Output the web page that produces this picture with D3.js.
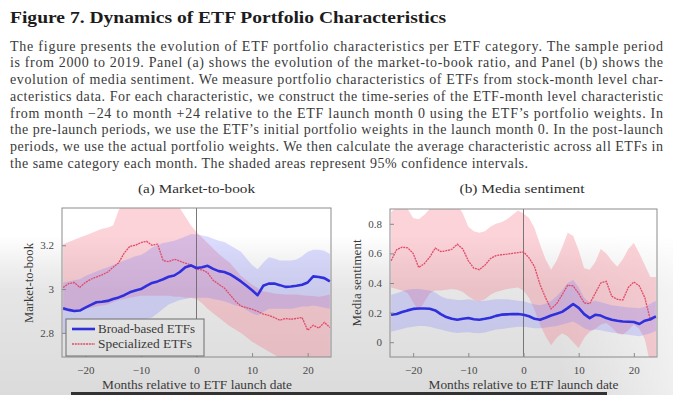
<!DOCTYPE html>
<html>
<head>
<meta charset="utf-8">
<script src="https://cdn.jsdelivr.net/npm/d3@7"></script>
<style>
  body { margin: 0; background: #fff; }
  svg { display: block; }
  svg text { font-family: "Liberation Serif", "DejaVu Serif", serif; }
</style>
</head>
<body>
<div id="figure"></div>
<script>
// months relative to launch
const months = [-24, -23, -22, -21, -20, -19, -18, -17, -16, -15, -14, -13, -12, -11, -10, -9, -8, -7, -6, -5,
  -4, -3, -2, -1, 0, 1, 2, 3, 4, 5, 6, 7, 8, 9, 10, 11, 12, 13, 14, 15, 16, 17, 18, 19, 20, 21, 22, 23, 24];

// panel (a) market-to-book
const mtbBroad = [2.912, 2.905, 2.900, 2.902, 2.915, 2.928, 2.940, 2.942, 2.946, 2.955,
  2.962, 2.972, 2.985, 2.993, 3.000, 3.015, 3.028, 3.035, 3.045, 3.056,
  3.062, 3.078, 3.100, 3.108, 3.096, 3.100, 3.106, 3.092, 3.082, 3.078,
  3.068, 3.052, 3.035, 3.015, 2.995, 2.972, 3.015, 3.025, 3.025, 3.018,
  3.010, 3.012, 3.015, 3.020, 3.030, 3.058, 3.055, 3.050, 3.035];
const mtbBroadLo = [2.80, 2.80, 2.80, 2.80, 2.80, 2.81, 2.81, 2.82, 2.83, 2.84,
  2.845, 2.85, 2.85, 2.855, 2.86, 2.865, 2.87, 2.89, 2.91, 2.93,
  2.94, 2.95, 2.955, 2.96, 2.96, 2.96, 2.96, 2.955, 2.95, 2.945,
  2.935, 2.925, 2.92, 2.905, 2.89, 2.88, 2.895, 2.91, 2.91, 2.91,
  2.91, 2.91, 2.915, 2.92, 2.92, 2.925, 2.92, 2.915, 2.91];
const mtbBroadHi = [3.03, 3.035, 3.04, 3.045, 3.06, 3.07, 3.08, 3.09, 3.10, 3.11,
  3.12, 3.13, 3.14, 3.15, 3.155, 3.17, 3.19, 3.20, 3.21, 3.215,
  3.22, 3.23, 3.24, 3.25, 3.25, 3.245, 3.24, 3.23, 3.22, 3.215,
  3.20, 3.185, 3.17, 3.14, 3.11, 3.09, 3.12, 3.145, 3.14, 3.13,
  3.13, 3.13, 3.135, 3.15, 3.17, 3.18, 3.18, 3.175, 3.16];
const mtbSpec = [3.007, 3.025, 3.030, 3.008, 3.030, 3.045, 3.055, 3.065, 3.077, 3.100,
  3.120, 3.165, 3.195, 3.200, 3.212, 3.218, 3.200, 3.205, 3.130, 3.125,
  3.136, 3.128, 3.118, 3.110, 3.090, 3.088, 3.075, 3.040, 3.022, 3.005,
  2.975, 2.945, 2.922, 2.915, 2.908, 2.898, 2.886, 2.880, 2.870, 2.858,
  2.866, 2.862, 2.866, 2.870, 2.812, 2.835, 2.822, 2.848, 2.825];
const mtbSpecLo = [2.90, 2.90, 2.905, 2.905, 2.91, 2.915, 2.92, 2.925, 2.93, 2.94,
  2.95, 2.955, 2.96, 2.965, 2.97, 2.97, 2.97, 2.97, 2.97, 2.97,
  2.965, 2.965, 2.96, 2.96, 2.955, 2.935, 2.91, 2.89, 2.87, 2.85,
  2.83, 2.815, 2.80, 2.78, 2.76, 2.745, 2.73, 2.715, 2.70, 2.685,
  2.67, 2.66, 2.65, 2.64, 2.63, 2.62, 2.62, 2.61, 2.60];
const mtbSpecHi = [3.205, 3.215, 3.225, 3.235, 3.245, 3.255, 3.265, 3.275, 3.28, 3.29,
  3.36, 3.40, 3.42, 3.43, 3.44, 3.44, 3.43, 3.42, 3.40, 3.39,
  3.38, 3.37, 3.33, 3.29, 3.26, 3.235, 3.21, 3.185, 3.16, 3.14,
  3.12, 3.09, 3.06, 3.04, 3.02, 3.005, 2.99, 2.985, 2.98, 2.977,
  2.975, 2.975, 2.975, 2.972, 2.97, 2.968, 2.965, 2.97, 2.975];

// panel (b) media sentiment
const sentBroad = [0.186, 0.19, 0.204, 0.215, 0.225, 0.228, 0.228, 0.226, 0.215, 0.19,
  0.17, 0.158, 0.152, 0.158, 0.163, 0.155, 0.152, 0.158, 0.165, 0.178,
  0.186, 0.188, 0.19, 0.19, 0.186, 0.175, 0.158, 0.152, 0.165, 0.18,
  0.192, 0.205, 0.23, 0.258, 0.232, 0.19, 0.163, 0.185, 0.18, 0.163,
  0.152, 0.145, 0.14, 0.138, 0.136, 0.123, 0.145, 0.155, 0.174];
const sentBroadLo = [0.07, 0.08, 0.09, 0.10, 0.105, 0.11, 0.11, 0.105, 0.095, 0.085,
  0.075, 0.068, 0.063, 0.065, 0.068, 0.062, 0.06, 0.065, 0.075, 0.085,
  0.09, 0.095, 0.1, 0.105, 0.105, 0.1, 0.095, 0.095, 0.1, 0.105,
  0.11, 0.12, 0.13, 0.14, 0.12, 0.095, 0.08, 0.085, 0.08, 0.072,
  0.065, 0.06, 0.055, 0.05, 0.045, 0.04, 0.05, 0.06, 0.075];
const sentBroadHi = [0.32, 0.33, 0.345, 0.355, 0.36, 0.36, 0.355, 0.35, 0.335, 0.31,
  0.295, 0.29, 0.285, 0.285, 0.29, 0.283, 0.278, 0.28, 0.285, 0.29,
  0.29, 0.29, 0.285, 0.28, 0.276, 0.265, 0.255, 0.25, 0.26, 0.28,
  0.31, 0.35, 0.40, 0.42, 0.37, 0.30, 0.27, 0.28, 0.27, 0.26,
  0.25, 0.245, 0.24, 0.235, 0.232, 0.23, 0.24, 0.26, 0.28];
const sentSpec = [0.55, 0.625, 0.642, 0.638, 0.60, 0.505, 0.53, 0.575, 0.636, 0.612,
  0.618, 0.628, 0.662, 0.63, 0.55, 0.50, 0.49, 0.52, 0.565, 0.585,
  0.591, 0.595, 0.60, 0.605, 0.61, 0.57, 0.51, 0.389, 0.30, 0.225,
  0.26, 0.32, 0.385, 0.38, 0.33, 0.265, 0.26, 0.33, 0.40, 0.411,
  0.31, 0.29, 0.285, 0.37, 0.407, 0.38, 0.30, 0.15, 0.17];
const sentSpecLo = [0.37, 0.36, 0.35, 0.33, 0.27, 0.21, 0.27, 0.33, 0.35, 0.35,
  0.355, 0.36, 0.355, 0.34, 0.31, 0.285, 0.276, 0.29, 0.32, 0.34,
  0.35, 0.36, 0.365, 0.37, 0.35, 0.30, 0.22, 0.12, 0.04, -0.02,
  0.03, 0.06, 0.04, 0.0, -0.04, 0.03, 0.07, 0.09, 0.12, 0.13,
  0.10, 0.06, 0.05, 0.08, 0.12, 0.09, 0.02, -0.15, -0.12];
const sentSpecHi = [0.88, 0.91, 0.93, 0.90, 0.84, 0.83, 0.86, 0.90, 0.93, 0.93,
  0.92, 0.93, 0.93, 0.87, 0.78, 0.75, 0.74, 0.75, 0.78, 0.80,
  0.81, 0.83, 0.86, 0.89, 0.87, 0.84, 0.77, 0.66, 0.56, 0.49,
  0.55, 0.64, 0.74, 0.72, 0.62, 0.50, 0.49, 0.54, 0.63, 0.60,
  0.55, 0.51, 0.56, 0.63, 0.67, 0.60, 0.52, 0.44, 0.44];

const xTicks = [-20, -10, 0, 10, 20];
const mtbTicks = [2.8, 3, 3.2];
const sentTicks = [0, 0.2, 0.4, 0.6, 0.8];
const seriesNames = ["Broad-based ETFs", "Specialized ETFs"];

const captionLines = [
  "The figure presents the evolution of ETF portfolio characteristics per ETF category.  The sample period",
  "is from 2000 to 2019.  Panel (a) shows the evolution of the market-to-book ratio, and Panel (b) shows the",
  "evolution of media sentiment.  We measure portfolio characteristics of ETFs from stock-month level char-",
  "acteristics data.  For each characteristic, we construct the time-series of the ETF-month level characteristic",
  "from month \u221224 to month +24 relative to the ETF launch month 0 using the ETF\u2019s portfolio weights.  In",
  "the pre-launch periods, we use the ETF\u2019s initial portfolio weights in the launch month 0.  In the post-launch",
  "periods, we use the actual portfolio weights.  We then calculate the average characteristic across all ETFs in",
  "the same category each month.  The shaded areas represent 95% confidence intervals."
];

const W = 673, H = 395;
const blue = "#2f2fdc", red = "#e24a68";
const serif = "'Liberation Serif', 'DejaVu Serif', serif";

const svg = d3.select("#figure").append("svg")
  .attr("width", W)
  .attr("height", H);

// screen-photo like background: white on top, greyer towards the bottom left
const defs = svg.append("defs");
const grad = defs.append("linearGradient")
  .attr("id", "bg")
  .attr("gradientUnits", "userSpaceOnUse")
  .attr("x1", 0).attr("y1", 0).attr("x2", 0).attr("y2", H);
[[0, "#ffffff"], [235, "#ffffff"], [265, "#f0f0f0"], [290, "#e6e6e6"], [395, "#dbdbdb"]].forEach(s => {
  grad.append("stop").attr("offset", s[0] / H).attr("stop-color", s[1]);
});
const glare = defs.append("linearGradient")
  .attr("id", "glare")
  .attr("gradientUnits", "userSpaceOnUse")
  .attr("x1", 560).attr("y1", 0).attr("x2", W).attr("y2", 0);
glare.append("stop").attr("offset", 0).attr("stop-color", "#fff").attr("stop-opacity", 0);
glare.append("stop").attr("offset", 1).attr("stop-color", "#fff").attr("stop-opacity", 0.55);

svg.append("rect").attr("width", W).attr("height", H).attr("fill", "url(#bg)");
svg.append("rect").attr("width", W).attr("height", H).attr("fill", "url(#glare)");

svg.append("text")
  .attr("x", 10).attr("y", 23)
  .attr("textLength", 436)
  .attr("lengthAdjust", "spacingAndGlyphs")
  .style("font-family", serif)
  .style("font-size", "17.5px")
  .style("font-weight", "bold")
  .attr("fill", "#1c1c1c")
  .text("Figure 7. Dynamics of ETF Portfolio Characteristics");

svg.selectAll(".caption")
  .data(captionLines)
  .enter().append("text")
  .attr("class", "caption")
  .attr("x", 10)
  .attr("y", (d, i) => 50.5 + i * 16.75)
  .attr("textLength", (d, i) => i === captionLines.length - 1 ? 518 : 653)
  .attr("lengthAdjust", "spacing")
  .style("font-family", serif)
  .style("font-size", "14px")
  .attr("fill", "#3a3a3a")
  .text(d => d);

function drawPanel(cfg) {
  const x = d3.scaleLinear().domain([-24.2, 24.2]).range([cfg.left, cfg.right]);
  const y = d3.scaleLinear().domain(cfg.yDomain).range([357, cfg.top]);

  const g = svg.append("g");
  const clipId = "clip-" + cfg.id;
  defs.append("clipPath").attr("id", clipId)
    .append("rect")
    .attr("x", cfg.left).attr("y", cfg.top)
    .attr("width", cfg.right - cfg.left).attr("height", 357 - cfg.top);

  const plot = g.append("g").attr("clip-path", "url(#" + clipId + ")");

  const band = (lo, hi) => d3.area()
    .x((d, i) => x(months[i]))
    .y0((d, i) => y(lo[i]))
    .y1((d, i) => y(hi[i]))(months);
  const line = vals => d3.line()
    .x((d, i) => x(months[i]))
    .y(d => y(d))(vals);

  plot.append("path").attr("d", band(cfg.specLo, cfg.specHi))
    .attr("fill", "rgb(242,110,130)").attr("fill-opacity", 0.3);
  plot.append("path").attr("d", band(cfg.broadLo, cfg.broadHi))
    .attr("fill", "rgb(120,120,255)").attr("fill-opacity", 0.25);

  plot.append("line")
    .attr("x1", x(0)).attr("x2", x(0))
    .attr("y1", cfg.top).attr("y2", 357)
    .attr("stroke", "#6a6a6a").attr("stroke-width", 0.9);

  plot.append("path").attr("d", line(cfg.spec))
    .attr("fill", "none").attr("stroke", red)
    .attr("stroke-width", 1.3).attr("stroke-dasharray", "2,0.8");
  plot.append("path").attr("d", line(cfg.broad))
    .attr("fill", "none").attr("stroke", blue)
    .attr("stroke-width", 2.6).attr("stroke-linejoin", "round");

  // axes, ticks pointing inwards
  const xAxis = g.append("g")
    .attr("transform", "translate(0,357)")
    .call(d3.axisBottom(x).tickValues(xTicks).tickSizeInner(-4).tickSizeOuter(0).tickPadding(9));
  const yAxis = g.append("g")
    .attr("transform", "translate(" + cfg.left + ",0)")
    .call(d3.axisLeft(y).tickValues(cfg.yTicks).tickSizeInner(-4).tickSizeOuter(0).tickPadding(8)
      .tickFormat(d => String(+d.toFixed(1))));
  [xAxis, yAxis].forEach(a => {
    a.attr("font-family", null);
    a.select(".domain").remove();
    a.selectAll("line").attr("stroke", "#8a8a8a");
    a.selectAll("text")
      .attr("fill", "#4a4a4a")
      .style("font-family", serif)
      .style("font-size", "11px");
  });

  g.append("rect")
    .attr("x", cfg.left).attr("y", cfg.top)
    .attr("width", cfg.right - cfg.left).attr("height", 357 - cfg.top)
    .attr("fill", "none").attr("stroke", "#8c8c8c").attr("stroke-width", 1);

  g.append("text")
    .attr("x", cfg.titleX).attr("y", 193)
    .attr("text-anchor", "middle")
    .attr("textLength", cfg.titleLen).attr("lengthAdjust", "spacingAndGlyphs")
    .style("font-family", serif)
    .style("font-size", "13px").attr("fill", "#2e2e2e")
    .text(cfg.title);

  g.append("text")
    .attr("x", cfg.xLabelX).attr("y", 389)
    .attr("text-anchor", "middle")
    .attr("textLength", 190).attr("lengthAdjust", "spacingAndGlyphs")
    .style("font-family", serif)
    .style("font-size", "11.5px").attr("fill", "#3a3a3a")
    .text("Months relative to ETF launch date");

  g.append("text")
    .attr("transform", "translate(" + (cfg.yLabelX + 4) + ",283) rotate(-90)")
    .attr("text-anchor", "middle")
    .attr("textLength", cfg.yLabelLen).attr("lengthAdjust", "spacingAndGlyphs")
    .style("font-family", serif)
    .style("font-size", "11.5px").attr("fill", "#3a3a3a")
    .text(cfg.yLabel);

  return g;
}

const panelA = drawPanel({
  id: "a", left: 62, right: 331, top: 208, yDomain: [2.69, 3.37], yTicks: mtbTicks,
  broad: mtbBroad, broadLo: mtbBroadLo, broadHi: mtbBroadHi,
  spec: mtbSpec, specLo: mtbSpecLo, specHi: mtbSpecHi,
  title: "(a) Market-to-book", titleX: 196.5, titleLen: 117,
  xLabelX: 197, yLabel: "Market-to-book", yLabelX: 29, yLabelLen: 80
});

drawPanel({
  id: "b", left: 390, right: 657, top: 209, yDomain: [-0.1, 0.9], yTicks: sentTicks,
  broad: sentBroad, broadLo: sentBroadLo, broadHi: sentBroadHi,
  spec: sentSpec, specLo: sentSpecLo, specHi: sentSpecHi,
  title: "(b) Media sentiment", titleX: 522, titleLen: 125,
  xLabelX: 523.5, yLabel: "Media sentiment", yLabelX: 357, yLabelLen: 87
});

// legend inside panel (a)
const legend = panelA.append("g");
legend.append("rect")
  .attr("x", 66).attr("y", 319).attr("width", 138).attr("height", 37)
  .attr("fill", "url(#bg)").attr("stroke", "#6e6e6e").attr("stroke-width", 1);
seriesNames.forEach((name, i) => {
  const ly = 329 + i * 15;
  legend.append("line")
    .attr("x1", 72).attr("x2", 95).attr("y1", ly).attr("y2", ly)
    .attr("stroke", i === 0 ? blue : red)
    .attr("stroke-width", i === 0 ? 2.6 : 1.3)
    .attr("stroke-dasharray", i === 0 ? null : "2,0.8");
  legend.append("text")
    .attr("x", 98).attr("y", ly + 4)
    .attr("textLength", i === 0 ? 97 : 94).attr("lengthAdjust", "spacingAndGlyphs")
    .style("font-family", serif)
    .style("font-size", "12px").attr("fill", "#3a3a3a")
    .text(name);
});

// dark strip along the bottom of the screenshot
svg.append("rect")
  .attr("x", 71).attr("y", 392).attr("width", 536).attr("height", 3)
  .attr("fill", "#333");
</script>
</body>
</html>
